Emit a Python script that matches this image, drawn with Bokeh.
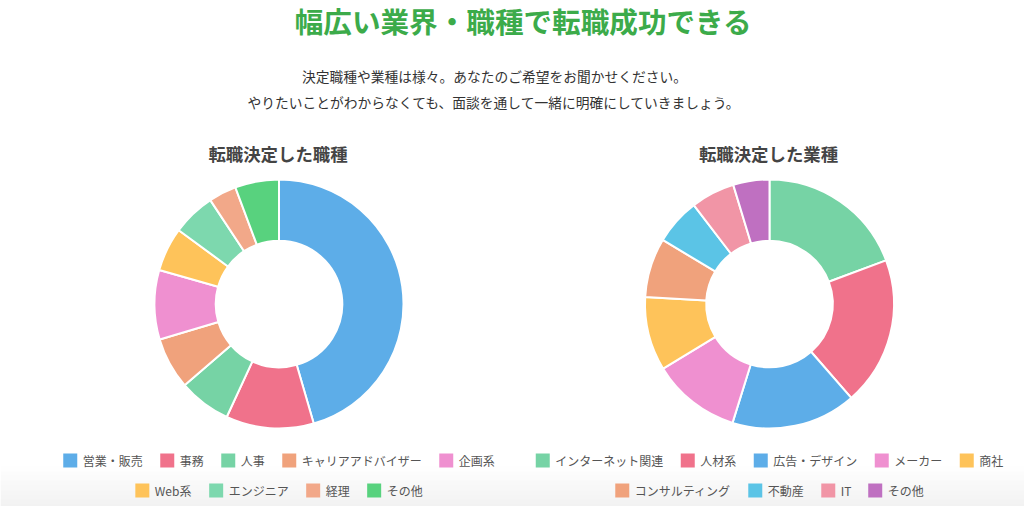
from bokeh.plotting import figure
from bokeh.models import ColumnDataSource, Range1d
from bokeh.core.properties import value
from bokeh.embed import file_html
from bokeh.resources import INLINE
import math

W, H = 1024, 506
FONT = "Noto Sans CJK JP"

# ---------------- data ----------------
title = "幅広い業界・職種で転職成功できる"
subtitle_lines = [
    "決定職種や業種は様々。あなたのご希望をお聞かせください。",
    "やりたいことがわからなくても、面談を通して一緒に明確にしていきましょう。",
]

occ_title = "転職決定した職種"
occ_labels = ["営業・販売", "事務", "人事", "キャリアアドバイザー", "企画系",
              "Web系", "エンジニア", "経理", "その他"]
occ_values = [45.5, 11.4, 6.8, 6.7, 9.0, 5.7, 5.6, 3.6, 5.7]
occ_colors = ["#5DADE8", "#F0728B", "#76D3A5", "#F0A27C", "#EF90D0",
              "#FEC35A", "#7DD8AE", "#F2A889", "#58D27E"]

ind_title = "転職決定した業種"
ind_labels = ["インターネット関連", "人材系", "広告・デザイン", "メーカー", "商社",
              "コンサルティング", "不動産", "IT", "その他"]
ind_values = [19.3, 19.3, 16.2, 11.5, 9.6, 7.7, 6.0, 5.7, 4.7]
ind_colors = ["#76D3A5", "#F0728B", "#5DADE8", "#EF90D0", "#FEC35A",
              "#F0A27C", "#5BC4E6", "#F195A6", "#BF70C1"]

# ---------------- layout ----------------
def Y(py):
    return H - py

p = figure(width=W, height=H, x_range=Range1d(0, W), y_range=Range1d(0, H),
           x_axis_type=None, y_axis_type=None, toolbar_location=None,
           output_backend="svg", min_border=0, outline_line_color=None,
           background_fill_color="white", border_fill_color="white")
p.grid.visible = False

# bottom soft gradient
g0, g1 = 464, 506
n = g1 - g0
qb, qt, qc = [], [], []
for i in range(n):
    t = i / (n - 1)
    c = int(round(255 - 17 * t))
    qt.append(Y(g0 + i))
    qb.append(Y(g0 + i + 1))
    qc.append("#%02x%02x%02x" % (c, c, c))
p.quad(left=0, right=W, top=qt, bottom=qb, fill_color=qc, line_color=None)

# title & subtitle
p.text(x=[523], y=[Y(20)], text=[title], text_font=value(FONT),
       text_font_size="28.6px", text_font_style="bold", text_color="#3cab4a",
       text_align="center", text_baseline="middle")
p.text(x=[494, 494], y=[Y(75), Y(101)], text=subtitle_lines, text_font=value(FONT),
       text_font_size="13.75px", text_color="#333333",
       text_align="center", text_baseline="middle")


def char_w(ch, fs=12.0):
    table = {"W": 0.93, "e": 0.55, "b": 0.59, "I": 0.28, "T": 0.55}
    if ord(ch) < 128:
        return table.get(ch, 0.55) * fs
    return fs


def donut(cx, labels, values, colors, ctitle):
    cy = 303.5
    r_out, r_in = 124.5, 63.3
    total = sum(values)
    starts, ends = [], []
    cum = 0.0
    for v in values:
        a0 = math.pi / 2 - 2 * math.pi * cum / total
        cum += v
        a1 = math.pi / 2 - 2 * math.pi * cum / total
        starts.append(a1)
        ends.append(a0)
    src = ColumnDataSource(dict(start=starts, end=ends, color=colors))
    p.annular_wedge(x=cx, y=Y(cy), inner_radius=r_in, outer_radius=r_out,
                    start_angle="start", end_angle="end", direction="anticlock",
                    fill_color="color", line_color="white", line_width=2,
                    source=src)
    p.text(x=[cx - 1], y=[Y(152.5)], text=[ctitle], text_font=value(FONT),
           text_font_size="17.4px", text_font_style="bold", text_color="#444444",
           text_align="center", text_baseline="middle")

    # legend: two centered rows
    rows = [list(range(0, 5)), list(range(5, len(labels)))]
    row_y = [460, 490]
    box, gap_t, gap_i = 14, 5.5, 17.5
    bx, by, bc, tx, ty, tt = [], [], [], [], [], []
    for r, idxs in enumerate(rows):
        widths = [sum(char_w(c) for c in labels[i]) for i in idxs]
        total_w = sum(box + gap_t + w for w in widths) + gap_i * (len(idxs) - 1)
        x = cx - total_w / 2
        for i, w in zip(idxs, widths):
            bx.append(x + box / 2)
            by.append(Y(row_y[r]))
            bc.append(colors[i])
            tx.append(x + box + gap_t)
            ty.append(Y(row_y[r]))
            tt.append(labels[i])
            x += box + gap_t + w + gap_i
    p.rect(x=bx, y=by, width=box, height=box, fill_color=bc, line_color=None)
    p.text(x=tx, y=ty, text=tt, text_font=value(FONT), text_font_size="12px",
           text_color="#555555", text_align="left", text_baseline="middle")


donut(278.5, occ_labels, occ_values, occ_colors, occ_title)
donut(769.0, ind_labels, ind_values, ind_colors, ind_title)

open("out.html", "w").write(file_html(p, INLINE))
